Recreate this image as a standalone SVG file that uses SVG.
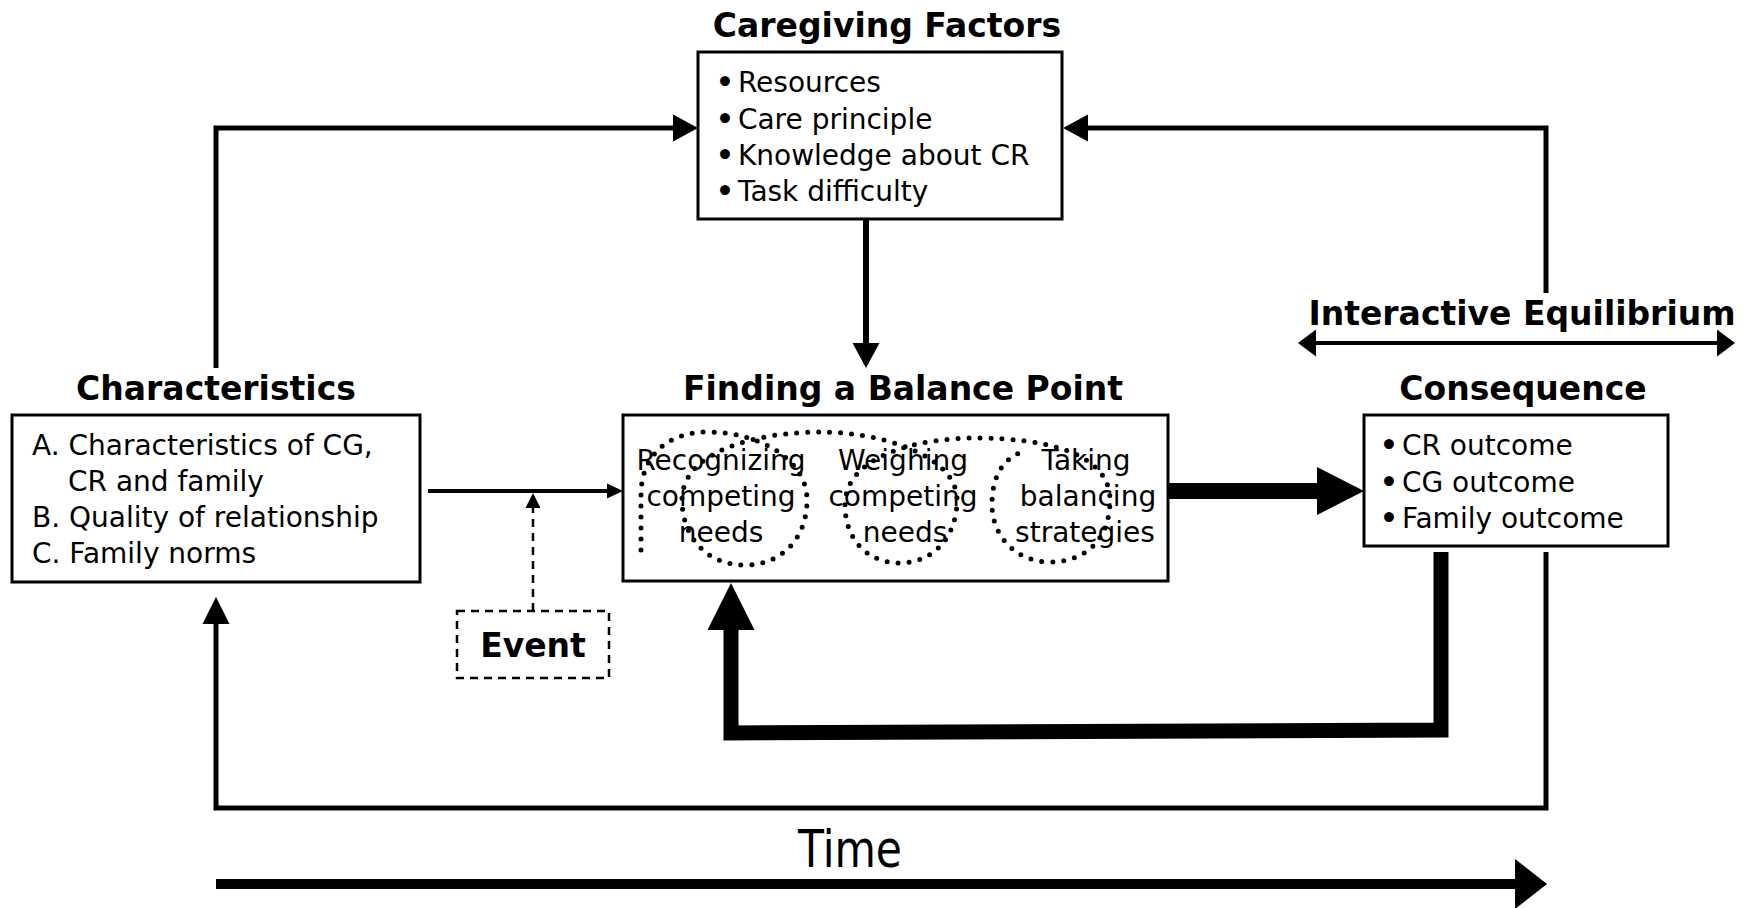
<svg xmlns="http://www.w3.org/2000/svg" width="1754" height="908" viewBox="0 0 1754 908">
  <style>
    .box { fill: #fff; stroke: #000; stroke-width: 3; }
    .title { font-family: "DejaVu Sans", Verdana, sans-serif; font-weight: bold; font-size: 33px; fill: #000; text-anchor: middle; }
    .body { font-family: "DejaVu Sans", Verdana, sans-serif; font-size: 28px; fill: #000; }
    .mid { text-anchor: middle; }
    .dot { font-weight: bold; }
    .big { font-family: "DejaVu Sans", Verdana, sans-serif; font-size: 52px; fill: #000; }
    .line { fill: none; stroke: #000; stroke-linejoin: miter; }
    .head { fill: #000; stroke: none; }
    .dots { fill: none; stroke: #000; stroke-width: 5; stroke-linecap: round; stroke-dasharray: 0 11; }
  </style>

  <!-- connectors -->
  <g id="connectors">
    <!-- Characteristics -> Caregiving Factors -->
    <polyline class="line" stroke-width="5" points="216,368 216,128 676,128"/>
    <polygon class="head" points="698,128 673,114.5 673,141.5"/>
    <!-- Consequence -> Caregiving Factors -->
    <polyline class="line" stroke-width="5" points="1546,293 1546,128 1085,128"/>
    <polygon class="head" points="1063,128 1088,114.5 1088,141.5"/>
    <!-- Caregiving Factors -> Finding a Balance Point -->
    <line class="line" stroke-width="6" x1="866" y1="219" x2="866" y2="345"/>
    <polygon class="head" points="866,368 852.5,343 879.5,343"/>
    <!-- Characteristics -> Finding a Balance Point -->
    <line class="line" stroke-width="4" x1="428" y1="491" x2="610" y2="491"/>
    <polygon class="head" points="623,491 607,483.5 607,498.5"/>
    <!-- Event (dashed) -->
    <line class="line" stroke-width="2.5" stroke-dasharray="8 6" x1="533" y1="611" x2="533" y2="507"/>
    <polygon class="head" points="533,493 525.5,508 540.5,508"/>
    <!-- Finding a Balance Point -> Consequence -->
    <line class="line" stroke-width="16" x1="1168" y1="491" x2="1319" y2="491"/>
    <polygon class="head" points="1364,491 1317,467 1317,515"/>
    <!-- Consequence -> Finding a Balance Point (thick feedback) -->
    <polyline class="line" stroke-width="15" points="1441,552 1441,730 731,733 731,627"/>
    <polygon class="head" points="731,583 707.5,630 754.5,630"/>
    <!-- Consequence -> Characteristics (outer feedback) -->
    <polyline class="line" stroke-width="5" points="1546,552 1546,808 216,808 216,620"/>
    <polygon class="head" points="216,597 202.5,624 229.5,624"/>
    <!-- Interactive Equilibrium double arrow -->
    <line class="line" stroke-width="4" x1="1312" y1="343" x2="1720" y2="343"/>
    <polygon class="head" points="1298,343 1316,329.5 1316,356.5"/>
    <polygon class="head" points="1735,343 1717,329.5 1717,356.5"/>
    <!-- Time arrow -->
    <line class="line" stroke-width="10" x1="216" y1="884" x2="1518" y2="884"/>
    <polygon class="head" points="1547,884 1515,859 1515,909"/>
  </g>

  <!-- Caregiving Factors -->
  <g id="caregiving-factors">
    <text class="title" x="887" y="37">Caregiving Factors</text>
    <rect class="box" x="698" y="52" width="364" height="167"/>
    <text class="body" x="716" y="92"><tspan class="dot">•</tspan><tspan dx="4">Resources</tspan></text>
    <text class="body" x="716" y="128.5"><tspan class="dot">•</tspan><tspan dx="4">Care principle</tspan></text>
    <text class="body" x="716" y="165"><tspan class="dot">•</tspan><tspan dx="4">Knowledge about CR</tspan></text>
    <text class="body" x="716" y="201"><tspan class="dot">•</tspan><tspan dx="4">Task difficulty</tspan></text>
  </g>

  <!-- Characteristics -->
  <g id="characteristics">
    <text class="title" x="216" y="400">Characteristics</text>
    <rect class="box" x="12" y="415" width="408" height="167"/>
    <text class="body" x="32" y="455">A. Characteristics of CG,</text>
    <text class="body" x="68" y="491">CR and family</text>
    <text class="body" x="32" y="527">B. Quality of relationship</text>
    <text class="body" x="32" y="563">C. Family norms</text>
  </g>

  <!-- Finding a Balance Point -->
  <g id="finding-balance-point">
    <text class="title" x="903" y="400">Finding a Balance Point</text>
    <rect class="box" x="623" y="415" width="545" height="166"/>
    <text class="body mid" x="721" y="470">Recognizing</text>
    <text class="body mid" x="721" y="506">competing</text>
    <text class="body mid" x="721" y="542">needs</text>
    <text class="body mid" x="903" y="470">Weighing</text>
    <text class="body mid" x="903" y="506">competing</text>
    <text class="body mid" x="905" y="542">needs</text>
    <text class="body mid" x="1086" y="470">Taking</text>
    <text class="body mid" x="1088" y="506">balancing</text>
    <text class="body mid" x="1085" y="542">strategies</text>
    <!-- looping dotted coil through the three steps -->
    <path class="dots" d="M641,550 L641,495 C641,455 668,432 708,432 C760,432 807,460 807,500 C807,540 780,565 745,565 C705,565 682,535 682,500 C682,450 760,432 820,432 C880,432 957,455 957,500 C957,540 930,563 900,563 C868,563 845,540 845,505 C845,455 920,438 975,438 C1050,438 1110,455 1110,500 C1110,540 1085,562 1050,562 C1015,562 992,535 992,505 C992,480 1000,460 1022,452"/>
  </g>

  <!-- Consequence -->
  <g id="consequence">
    <text class="title" x="1522" y="325">Interactive Equilibrium</text>
    <text class="title" x="1523" y="400">Consequence</text>
    <rect class="box" x="1364" y="415" width="304" height="131"/>
    <text class="body" x="1380" y="455"><tspan class="dot">•</tspan><tspan dx="4">CR outcome</tspan></text>
    <text class="body" x="1380" y="492"><tspan class="dot">•</tspan><tspan dx="4">CG outcome</tspan></text>
    <text class="body" x="1380" y="528"><tspan class="dot">•</tspan><tspan dx="4">Family outcome</tspan></text>
  </g>

  <!-- Event -->
  <g id="event">
    <rect x="457" y="611" width="152" height="67" fill="#fff" stroke="#000" stroke-width="2.5" stroke-dasharray="8 6"/>
    <text class="title" x="533" y="657">Event</text>
  </g>

  <!-- Time -->
  <g id="time">
    <text class="big" x="798" y="867" textLength="104" lengthAdjust="spacingAndGlyphs">Time</text>
  </g>
</svg>
